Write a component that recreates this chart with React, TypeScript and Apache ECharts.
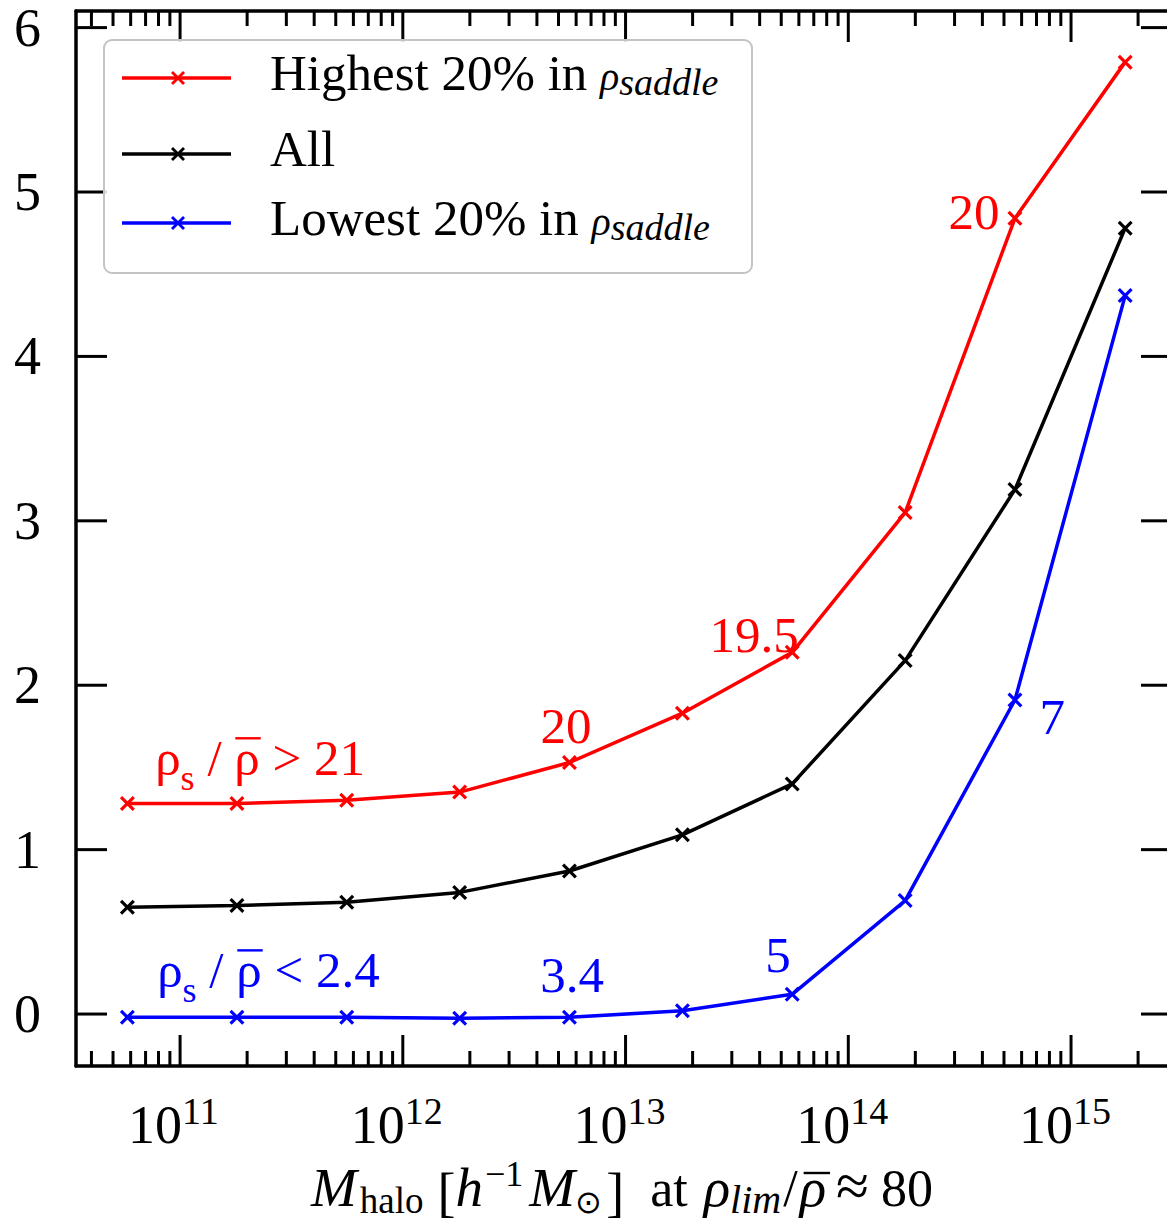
import { useEffect, useRef } from 'react';
import * as echarts from 'echarts';

const FAMILY = 'Liberation Serif';

// ---- data ----
const haloMass = [5.8e10, 1.8e11, 5.6e11, 1.8e12, 5.6e12, 1.8e13, 5.6e13, 1.8e14, 5.6e14, 1.75e15];
const highest = [1.28, 1.28, 1.30, 1.35, 1.53, 1.83, 2.20, 3.05, 4.84, 5.79];
const allHalos = [0.65, 0.66, 0.68, 0.74, 0.87, 1.09, 1.40, 2.15, 3.19, 4.78];
const lowest = [-0.02, -0.02, -0.02, -0.025, -0.02, 0.02, 0.12, 0.69, 1.91, 4.37];

const seriesNames = ['Highest 20% in ρsaddle', 'All', 'Lowest 20% in ρsaddle'];
const seriesColors = ['#ff0000', '#000000', '#0000ff'];

const xMajorTicks = [1e11, 1e12, 1e13, 1e14, 1e15];
const xMajorLabels = ['11', '12', '13', '14', '15'];
const xMinorTicks = [
  4e10, 5e10, 6e10, 7e10, 8e10, 9e10,
  2e11, 3e11, 4e11, 5e11, 6e11, 7e11, 8e11, 9e11,
  2e12, 3e12, 4e12, 5e12, 6e12, 7e12, 8e12, 9e12,
  2e13, 3e13, 4e13, 5e13, 6e13, 7e13, 8e13, 9e13,
  2e14, 3e14, 4e14, 5e14, 6e14, 7e14, 8e14, 9e14,
  2e15,
];
const yTicks = [0, 1, 2, 3, 4, 5, 6];
const xMin = 3.41e10;
const xMax = 2.84e15;
const yMin = -0.316;
const yMax = 6.101;

const annotLabels = ['ρs / ρ̄ > 21', '20', '19.5', '20', 'ρs / ρ̄ < 2.4', '3.4', '5', '7'];
const annotMass = [7.73e10, 5.41e12, 3.78e13, 3.67e14, 7.89e10, 5.75e12, 4.84e13, 8.24e14];
const annotY = [1.454, 1.648, 2.202, 4.775, 0.164, 0.134, 0.255, 1.703];
const annotColors = ['#ff0000', '#ff0000', '#ff0000', '#ff0000', '#0000ff', '#0000ff', '#0000ff', '#0000ff'];

// ---- text helpers ----
type Piece = { t: string; size: number; it?: boolean; dy?: number; over?: number; overShift?: number; pad?: number };
let mctx: CanvasRenderingContext2D | null = null;
function fontOf(p: Piece) {
  return `${p.it ? 'italic ' : ''}${p.size}px ${FAMILY}`;
}
function measure(p: Piece) {
  if (!mctx) mctx = document.createElement('canvas').getContext('2d');
  mctx!.font = fontOf(p);
  return mctx!.measureText(p.t).width;
}
function textStyle(p: Piece, color: string) {
  const s: any = { text: p.t, fontFamily: FAMILY, fontSize: p.size, fill: color };
  if (p.it) s.fontStyle = 'italic';
  return s;
}
// returns flat list of elements with absolute coordinates (no transforms)
function richText(
  pieces: Piece[],
  color: string,
  anchor: 'left' | 'center' | 'right',
  x: number,
  baseline: number,
  z?: number
): any[] {
  const widths = pieces.map(measure);
  const total = widths.reduce((a, b) => a + b, 0) + pieces.reduce((a, p) => a + (p.pad || 0), 0);
  let cur = x + (anchor === 'left' ? 0 : anchor === 'center' ? -total / 2 : -total);
  const out: any[] = [];
  const zz = z === undefined ? {} : { z };
  pieces.forEach((p, i) => {
    cur += p.pad || 0;
    const by = baseline + (p.dy || 0);
    out.push({
      type: 'text',
      x: cur,
      y: by - 0.8375 * p.size,
      ...zz,
      style: textStyle(p, color),
    });
    if (p.over) {
      const sh = p.overShift || 0;
      const oy = by - p.over * p.size;
      out.push({
        type: 'line',
        ...zz,
        shape: { x1: cur + sh + 1, y1: oy, x2: cur + sh + widths[i] + 1, y2: oy },
        style: { stroke: color, lineWidth: 2.4 },
      });
    }
    cur += widths[i];
  });
  return out;
}

function ratioPieces(label: string): Piece[] {
  const m = label.match(/^ρs \/ ρ̄ (.*)$/);
  if (!m) return [{ t: label, size: 51 }];
  return [
    { t: 'ρ', size: 51 },
    { t: 's', size: 36, dy: 15 },
    { t: ' / ', size: 51 },
    { t: 'ρ', size: 51, over: 0.72 },
    { t: ' ' + m[1], size: 51 },
  ];
}

const XMARK =
  'path://M0,1.5L1.5,0L5,3.5L8.5,0L10,1.5L6.5,5L10,8.5L8.5,10L5,6.5L1.5,10L0,8.5L3.5,5Z';

function buildOption(): any {
  const lineSeries = [highest, allHalos, lowest].map((vals, si) => ({
    type: 'line',
    name: seriesNames[si],
    data: haloMass.map((m, i) => [m, vals[i]]),
    symbol: XMARK,
    symbolSize: 15,
    showSymbol: true,
    lineStyle: { color: seriesColors[si], width: 3.5 },
    itemStyle: { color: seriesColors[si] },
    z: 3,
    silent: true,
  }));

  const xTickData = [
    ...xMajorTicks.map((m, i) => [m, yMin, 1, i]),
    ...xMinorTicks.map((m) => [m, yMin, 0, -1]),
  ];

  const xTickSeries = {
    type: 'custom',
    silent: true,
    clip: false,
    z: 5,
    data: xTickData,
    renderItem: (params: any, api: any) => {
      const cs = params.coordSys;
      const px = api.coord([api.value(0), yMin])[0];
      const major = api.value(2) === 1;
      const L = major ? 31 : 15;
      const bottom = cs.y + cs.height;
      const top = cs.y;
      let children: any[] = [
        { type: 'line', shape: { x1: px, y1: bottom, x2: px, y2: bottom - L }, style: { stroke: '#000', lineWidth: 3 } },
        { type: 'line', shape: { x1: px, y1: top, x2: px, y2: top + L }, style: { stroke: '#000', lineWidth: 3 } },
      ];
      if (major) {
        const idx = api.value(3);
        const base: Piece = { t: '10', size: 54 };
        const wBase = measure(base);
        children = children.concat(
          richText([base, { t: xMajorLabels[idx], size: 38, dy: -19 }], '#000', 'left', px - wBase + 2, bottom + 77)
        );
      }
      return { type: 'group', children };
    },
  };

  const yTickSeries = {
    type: 'custom',
    silent: true,
    clip: false,
    z: 5,
    data: yTicks.map((v) => [xMin, v]),
    renderItem: (params: any, api: any) => {
      const cs = params.coordSys;
      const py = api.coord([xMin, api.value(1)])[1];
      const left = cs.x;
      const right = cs.x + cs.width;
      return {
        type: 'group',
        children: [
          { type: 'line', shape: { x1: left, y1: py, x2: left + 31, y2: py }, style: { stroke: '#000', lineWidth: 3 } },
          { type: 'line', shape: { x1: right, y1: py, x2: right - 31, y2: py }, style: { stroke: '#000', lineWidth: 3 } },
          ...richText([{ t: String(api.value(1)), size: 54 }], '#000', 'right', left - 35, py + 0.338 * 54),
        ],
      };
    },
  };

  const annotSeries = {
    type: 'custom',
    silent: true,
    clip: false,
    z: 6,
    data: annotMass.map((m, i) => [m, annotY[i], i]),
    renderItem: (_params: any, api: any) => {
      const i = api.value(2);
      const p = api.coord([api.value(0), api.value(1)]);
      const label = annotLabels[i];
      const isRatio = label.startsWith('ρ');
      return {
        type: 'group',
        children: richText(ratioPieces(label), annotColors[i], isRatio ? 'left' : 'center', p[0], p[1]),
      };
    },
  };

  // legend drawn with graphic
  const legendRows = [90, 166, 235];
  let legendEls: any[] = [
    {
      type: 'rect',
      shape: { x: 104, y: 40, width: 648, height: 233, r: 8 },
      style: { fill: 'rgba(255,255,255,0.85)', stroke: '#c4c4c4', lineWidth: 2 },
      z: 10,
    },
  ];
  seriesNames.forEach((name, i) => {
    const cy = legendRows[i] - 12;
    const c = seriesColors[i];
    legendEls.push({ type: 'line', shape: { x1: 122, y1: cy, x2: 231, y2: cy }, style: { stroke: c, lineWidth: 3.5 }, z: 11 });
    legendEls.push({ type: 'line', shape: { x1: 172, y1: cy - 6, x2: 184, y2: cy + 6 }, style: { stroke: c, lineWidth: 2.8 }, z: 11 });
    legendEls.push({ type: 'line', shape: { x1: 172, y1: cy + 6, x2: 184, y2: cy - 6 }, style: { stroke: c, lineWidth: 2.8 }, z: 11 });
    let pieces: Piece[];
    const m = name.match(/^(.*)ρsaddle$/);
    if (m) {
      pieces = [
        { t: m[1], size: 51 },
        { t: 'ρ', size: 40, it: true },
        { t: 'saddle', size: 38, it: true, dy: 5 },
      ];
    } else {
      pieces = [{ t: name, size: 51 }];
    }
    legendEls = legendEls.concat(richText(pieces, '#000', 'left', 270, legendRows[i], 12));
  });

  const titlePieces: Piece[] = [
    { t: 'M', size: 55, it: true },
    { t: 'halo', size: 37, dy: 7, pad: 3 },
    { t: '[', size: 54, dy: 5, pad: 14 },
    { t: 'h', size: 55, it: true },
    { t: '−1', size: 36, dy: -20, pad: 2 },
    { t: 'M', size: 55, it: true, pad: 6 },
    { t: '⊙', size: 32, dy: 7 },
    { t: ']', size: 54, dy: 5, pad: 4 },
    { t: 'at', size: 52, pad: 26 },
    { t: 'ρ', size: 55, it: true, pad: 16 },
    { t: 'lim', size: 40, it: true, dy: 7 },
    { t: '/', size: 52, pad: 2 },
    { t: 'ρ', size: 55, it: true, over: 0.6, overShift: 3, pad: 2 },
    { t: '≈', size: 60, pad: 10 },
    { t: '80', size: 52, pad: 12 },
  ];
  const titleEls = richText(titlePieces, '#000', 'center', 622, 1206);

  return {
    animation: false,
    backgroundColor: '#ffffff',
    grid: { left: 76, top: 11, width: 1096, height: 1055, outerBoundsMode: 'none', containLabel: false },
    xAxis: [
      {
        type: 'log',
        logBase: 10,
        min: xMin,
        max: xMax,
        position: 'bottom',
        axisLine: { show: true, onZero: false, lineStyle: { color: '#000', width: 3.5 } },
        axisTick: { show: false },
        axisLabel: { show: false },
        splitLine: { show: false },
        minorTick: { show: false },
      },
      {
        type: 'log',
        logBase: 10,
        min: xMin,
        max: xMax,
        position: 'top',
        axisLine: { show: true, onZero: false, lineStyle: { color: '#000', width: 3.5 } },
        axisTick: { show: false },
        axisLabel: { show: false },
        splitLine: { show: false },
      },
    ],
    yAxis: [
      {
        type: 'value',
        min: yMin,
        max: yMax,
        position: 'left',
        axisLine: { show: true, onZero: false, lineStyle: { color: '#000', width: 3.5 } },
        axisTick: { show: false },
        axisLabel: { show: false },
        splitLine: { show: false },
      },
      {
        type: 'value',
        min: yMin,
        max: yMax,
        position: 'right',
        axisLine: { show: true, onZero: false, lineStyle: { color: '#000', width: 3.5 } },
        axisTick: { show: false },
        axisLabel: { show: false },
        splitLine: { show: false },
      },
    ],
    series: [...lineSeries, xTickSeries, yTickSeries, annotSeries],
    graphic: { elements: [...legendEls, ...titleEls] },
  };
}

export default function App() {
  const ref = useRef<HTMLDivElement>(null);
  useEffect(() => {
    const chart = echarts.init(ref.current!, null, { renderer: 'svg' });
    chart.setOption(buildOption());
    return () => chart.dispose();
  }, []);
  return (
    <div
      style={{
        position: 'absolute',
        left: 0,
        top: 0,
        width: 1167,
        height: 1221,
        overflow: 'hidden',
        background: '#fff',
      }}
    >
      <div ref={ref} style={{ width: 1185, height: 1221 }} />
    </div>
  );
}
